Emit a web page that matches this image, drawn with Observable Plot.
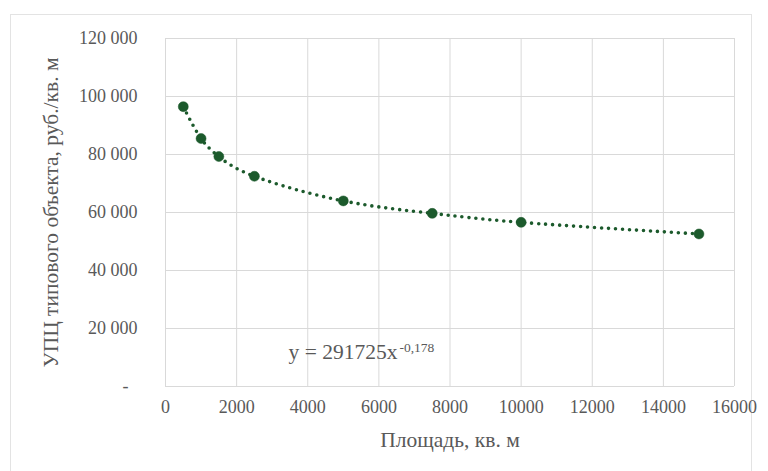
<!DOCTYPE html>
<html>
<head>
<meta charset="utf-8">
<script src="https://cdn.jsdelivr.net/npm/d3@7"></script>
<script src="https://cdn.jsdelivr.net/npm/@observablehq/plot@0.6"></script>
<style>
  html, body { margin: 0; padding: 0; background: #fff; }
  #wrap { position: relative; width: 768px; height: 471px; overflow: hidden; }
  #border { position: absolute; left: 10px; top: 14px; width: 742px; height: 470px; border: 1px solid #e3e3e3; box-sizing: border-box; }
  #chart { position: absolute; left: 0; top: 0; }
</style>
</head>
<body>
<div id="wrap"><div id="border"></div><div id="chart"></div></div>
<script>
// Data
const area = [500, 1000, 1500, 2500, 5000, 7500, 10000, 15000];
const price = [96500, 85500, 79300, 72500, 64000, 59700, 56600, 52600];
const xTicks = [0, 2000, 4000, 6000, 8000, 10000, 12000, 14000, 16000];
const yTicks = [0, 20000, 40000, 60000, 80000, 100000, 120000];
const xTitle = "Площадь, кв. м";
const yTitle = "УПЦ типового объекта, руб./кв. м";
const eqMain = "y = 291725x";
const eqPow = "-0,178";

const data = area.map((a, i) => ({area: a, price: price[i]}));
const green = "#1c5a2c";
const textColor = "#595959";
const grid = "#d9d9d9";
const serif = "Liberation Serif";

const fmtY = d => d === 0 ? "-\u2007" : d3.format(",")(d).replace(/,/g, " ");

const chart = Plot.plot({
  width: 768,
  height: 471,
  marginLeft: 165,
  marginRight: 34,
  marginTop: 38,
  marginBottom: 85,
  style: "font-family: 'Liberation Serif', 'Times New Roman', serif; font-size: 18px; color: #595959; background: transparent;",
  x: {domain: [0, 16000], ticks: xTicks},
  y: {domain: [0, 120000], ticks: yTicks},
  marks: [
    Plot.gridX(xTicks, {stroke: grid, strokeOpacity: 1, strokeWidth: 1}),
    Plot.gridY(yTicks, {stroke: grid, strokeOpacity: 1, strokeWidth: 1}),
    Plot.axisX(xTicks, {tickSize: 0, tickPadding: 14, tickFormat: d => String(d), label: null, fill: textColor, fontSize: 18, fontFamily: serif}),
    Plot.axisY(yTicks, {tickSize: 0, tickPadding: 28, tickFormat: fmtY, label: null, fill: textColor, fontSize: 18, fontFamily: serif}),
    Plot.line(data, {x: "area", y: "price", curve: "natural", stroke: green, strokeWidth: 3.6, strokeDasharray: "0 7", strokeLinecap: "round"}),
    Plot.dot(data, {x: "area", y: "price", r: 5, fill: green, stroke: green, strokeWidth: 0.5}),
    Plot.text([xTitle], {text: d => d, frameAnchor: "bottom", textAnchor: "middle", lineAnchor: "middle", dy: 54, fontSize: 21.5, fill: textColor, fontFamily: serif}),
    Plot.text([yTitle], {text: d => d, frameAnchor: "left", textAnchor: "middle", lineAnchor: "middle", dx: -114, rotate: -90, fontSize: 21.5, fill: textColor, fontFamily: serif}),
    Plot.text([eqMain], {text: d => d, frameAnchor: "bottom-left", textAnchor: "start", lineAnchor: "middle", dx: 123, dy: -34, fontSize: 21.5, fill: textColor, fontFamily: serif}),
    Plot.text([eqPow], {text: d => d, frameAnchor: "bottom-left", textAnchor: "start", lineAnchor: "middle", dx: 234, dy: -39, fontSize: 13.5, fill: textColor, fontFamily: serif})
  ]
});
document.getElementById("chart").appendChild(chart);
</script>
</body>
</html>
